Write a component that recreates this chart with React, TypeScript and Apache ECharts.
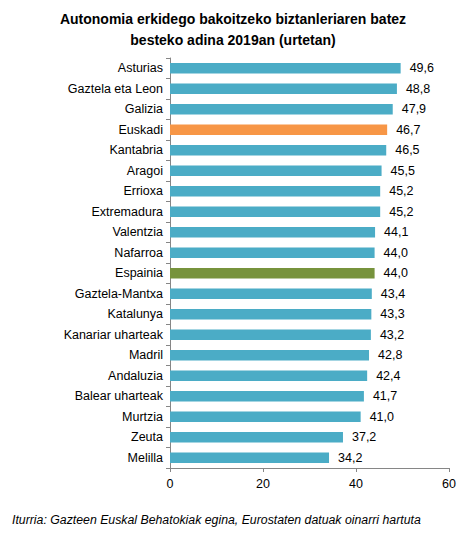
import React, { useEffect, useRef } from 'react';
import * as echarts from 'echarts';

const regions = [
  'Asturias', 'Gaztela eta Leon', 'Galizia', 'Euskadi', 'Kantabria', 'Aragoi',
  'Errioxa', 'Extremadura', 'Valentzia', 'Nafarroa', 'Espainia', 'Gaztela-Mantxa',
  'Katalunya', 'Kanariar uharteak', 'Madril', 'Andaluzia', 'Balear uharteak',
  'Murtzia', 'Zeuta', 'Melilla',
];
const ages = [
  49.6, 48.8, 47.9, 46.7, 46.5, 45.5, 45.2, 45.2, 44.1, 44.0, 44.0, 43.4,
  43.3, 43.2, 42.8, 42.4, 41.7, 41.0, 37.2, 34.2,
];
const xTicks = [0, 20, 40, 60];

const BLUE = '#4BACC6';
const highlight: Record<string, string> = { Euskadi: '#F79646', Espainia: '#77933C' };
const FONT = '"Liberation Sans", Arial, sans-serif';

const App: React.FC = () => {
  const chartRef = useRef<HTMLDivElement>(null);

  useEffect(() => {
    if (!chartRef.current) return;
    const chart = echarts.init(chartRef.current, undefined, { renderer: 'svg' });

    const option: echarts.EChartsOption = {
      animation: false,
      backgroundColor: '#fff',
      textStyle: { fontFamily: FONT },
      title: {
        text: 'Autonomia erkidego bakoitzeko biztanleriaren batez\nbesteko adina 2019an (urtetan)',
        left: 'center',
        top: 3,
        textStyle: { fontSize: 14, fontWeight: 'bold', color: '#000', lineHeight: 21, fontFamily: FONT },
      },
      grid: { left: 170, right: 17, top: 58, bottom: 69 },
      xAxis: {
        type: 'value',
        min: xTicks[0],
        max: xTicks[xTicks.length - 1],
        interval: 20,
        splitLine: { show: false },
        axisLine: { show: true, lineStyle: { color: '#868686' } },
        axisTick: { show: true, length: 4, lineStyle: { color: '#868686' } },
        axisLabel: { fontSize: 12.5, color: '#000', margin: 9 },
      },
      yAxis: {
        type: 'category',
        inverse: true,
        data: regions,
        axisLine: { show: true, lineStyle: { color: '#868686' } },
        axisTick: { show: true, length: 4, lineStyle: { color: '#868686' } },
        axisLabel: { fontSize: 12.5, color: '#000', margin: 7 },
      },
      series: [
        {
          type: 'bar',
          barWidth: '52%',
          data: ages.map((v, i) => ({
            value: v,
            itemStyle: { color: highlight[regions[i]] ?? BLUE },
          })),
          label: {
            show: true,
            position: 'right',
            distance: 9,
            fontSize: 12.5,
            color: '#000',
            formatter: (p: any) => p.value.toFixed(1).replace('.', ','),
          },
        },
      ],
      graphic: [
        {
          type: 'text',
          left: 12,
          top: 514,
          style: {
            text: 'Iturria: Gazteen Euskal Behatokiak egina, Eurostaten datuak oinarri hartuta',
            font: `italic 12.3px ${FONT}`,
            fill: '#000',
          },
        },
      ],
    };

    chart.setOption(option);
    return () => chart.dispose();
  }, []);

  return (
    <div
      ref={chartRef}
      style={{ position: 'fixed', left: 0, top: 0, width: 466, height: 537 }}
    />
  );
};

export default App;
